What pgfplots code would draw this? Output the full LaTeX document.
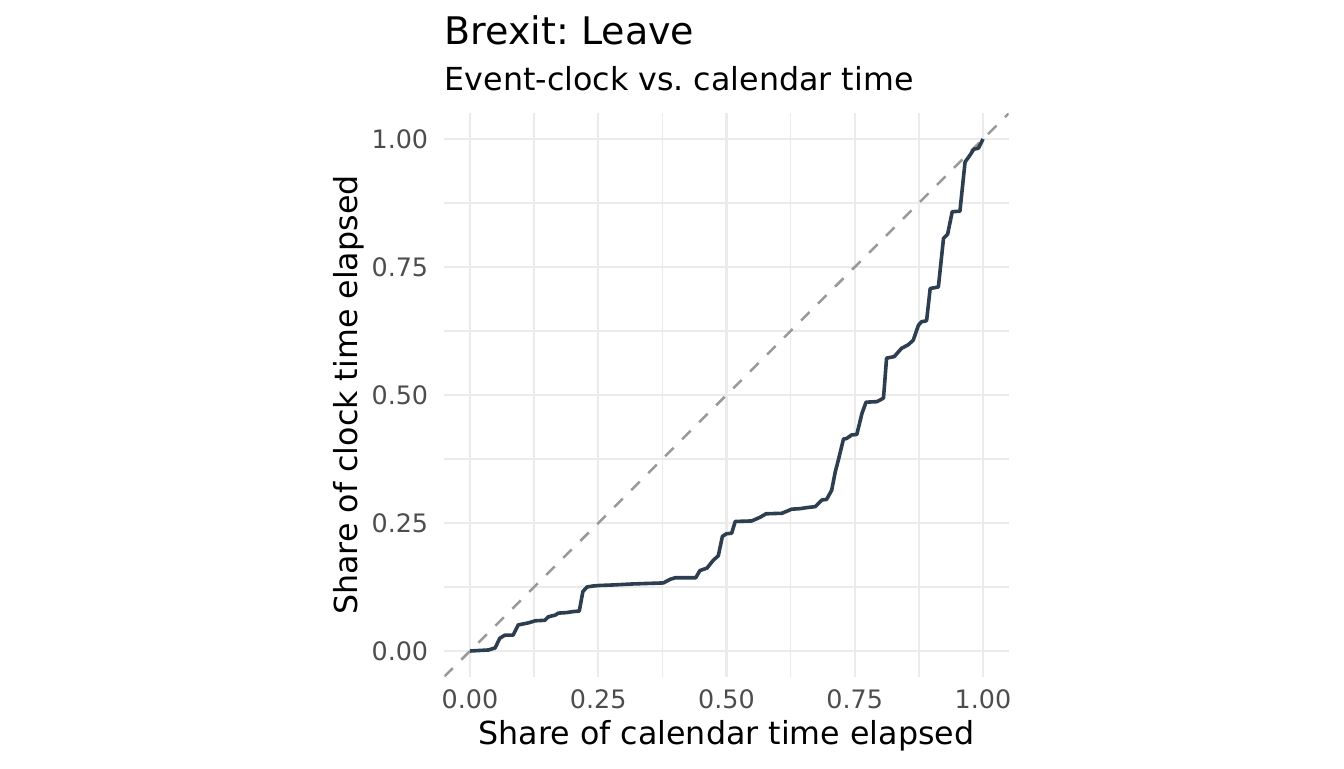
\documentclass[border=0pt]{standalone}
\usepackage{pgfplots}
\pgfplotsset{compat=1.18}
\usepackage{fontspec}
\setmainfont{DejaVu Sans}
\definecolor{curve}{HTML}{2C3E50}
\definecolor{gridc}{HTML}{EBEBEB}
\definecolor{tickc}{HTML}{4D4D4D}
\definecolor{dashc}{HTML}{999999}
\begin{document}
\frenchspacing
\begin{tikzpicture}
\path[use as bounding box] (0,0) rectangle (672pt,384pt);
\begin{axis}[
  at={(222.18pt,45.7pt)}, anchor=south west,
  scale only axis, width=282.15pt, height=281.6pt,
  xmin=-0.05, xmax=1.05, ymin=-0.05, ymax=1.05,
  xtick={0,0.25,0.5,0.75,1}, ytick={0,0.25,0.5,0.75,1},
  xticklabels={0.00,0.25,0.50,0.75,1.00},
  yticklabels={0.00,0.25,0.50,0.75,1.00},
  minor xtick={0.125,0.375,0.625,0.875},
  minor ytick={0.125,0.375,0.625,0.875},
  grid=both,
  major grid style={draw=gridc, line width=1.2pt},
  minor grid style={draw=gridc, line width=0.7pt},
  axis line style={draw=none},
  tick style={draw=none},
  major tick length=0pt, minor tick length=0pt,
  /pgf/number format/assume math mode=true,
  xticklabel style={font=\fontsize{12.7}{14}\selectfont, text=tickc, anchor=base, inner sep=0pt, yshift=-15.85pt},
  yticklabel style={font=\fontsize{12.7}{14}\selectfont, text=tickc, anchor=east, inner sep=0pt, xshift=-7.9pt},
  clip=true,
]
\addplot[dashc, line width=1.25pt, dash pattern=on 6pt off 6pt] coordinates {(-0.05,-0.05) (1.05,1.05)};
\addplot[curve, line width=1.8pt, line join=round] coordinates {
(0,0)
(0.036,0.002)
(0.049,0.006)
(0.058,0.025)
(0.068,0.031)
(0.084,0.031)
(0.094,0.051)
(0.104,0.053)
(0.114,0.055)
(0.127,0.059)
(0.146,0.060)
(0.153,0.067)
(0.166,0.070)
(0.172,0.074)
(0.188,0.075)
(0.201,0.077)
(0.213,0.078)
(0.220,0.116)
(0.228,0.125)
(0.240,0.127)
(0.253,0.128)
(0.279,0.129)
(0.318,0.131)
(0.377,0.133)
(0.390,0.140)
(0.400,0.143)
(0.440,0.143)
(0.448,0.157)
(0.462,0.162)
(0.474,0.177)
(0.484,0.186)
(0.492,0.224)
(0.500,0.229)
(0.510,0.230)
(0.517,0.253)
(0.549,0.254)
(0.565,0.261)
(0.577,0.268)
(0.608,0.269)
(0.627,0.277)
(0.643,0.278)
(0.656,0.280)
(0.673,0.282)
(0.686,0.295)
(0.695,0.296)
(0.705,0.314)
(0.712,0.350)
(0.718,0.373)
(0.728,0.414)
(0.734,0.415)
(0.744,0.422)
(0.754,0.423)
(0.764,0.464)
(0.772,0.486)
(0.793,0.487)
(0.799,0.490)
(0.806,0.494)
(0.812,0.572)
(0.827,0.575)
(0.841,0.591)
(0.854,0.598)
(0.864,0.607)
(0.874,0.636)
(0.880,0.643)
(0.890,0.645)
(0.897,0.708)
(0.913,0.711)
(0.923,0.806)
(0.931,0.814)
(0.940,0.858)
(0.955,0.859)
(0.965,0.955)
(0.975,0.969)
(0.982,0.980)
(0.991,0.982)
(1.000,1.000)
};
\end{axis}
\node[anchor=base west, inner sep=0pt, font=\fontsize{19}{22}\selectfont] at (222.2pt,361.85pt) {Brexit: Leave};
\node[anchor=base west, inner sep=0pt, font=\fontsize{15.85}{18}\selectfont] at (222.2pt,338.5pt) {Event-clock vs. calendar time};
\node[anchor=base, inner sep=0pt, font=\fontsize{15.85}{18}\selectfont] at (363.25pt,12pt) {Share of calendar time elapsed};
\node[anchor=base, rotate=90, inner sep=0pt, font=\fontsize{15.85}{18}\selectfont] at (178.65pt,186.5pt) {Share of clock time elapsed};
\end{tikzpicture}
\end{document}
